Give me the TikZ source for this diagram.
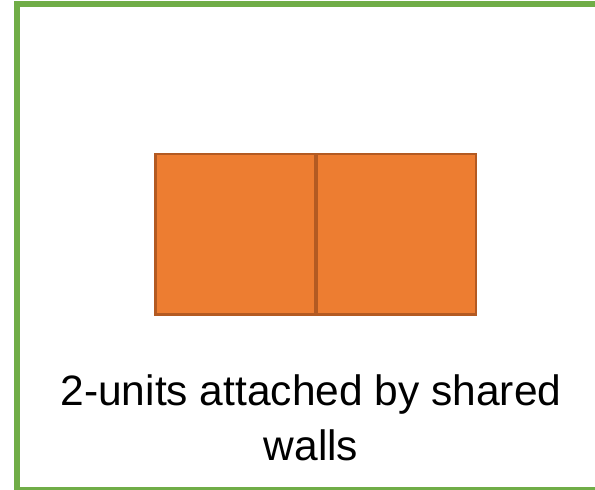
\documentclass[tikz,border=0pt]{standalone}
\usepackage{fontspec}
\setmainfont{Liberation Sans}
\usepackage{xcolor}
\usetikzlibrary{positioning}
\definecolor{frameGreen}{HTML}{70AD47}
\definecolor{unitOrange}{HTML}{ED7D31}
\definecolor{unitEdge}{HTML}{B35A22}
\tikzset{unitbox/.style={draw=unitEdge, fill=unitOrange, line width=2.5pt, outer sep=0pt,
    minimum width=159.5pt, minimum height=160.5pt}}

\begin{document}
\begin{tikzpicture}[x=1pt, y=1pt]

  \useasboundingbox (0,0) rectangle (595,490);

  % frame
  \draw[frameGreen, line width=6pt] (17,-0.5) rectangle (601,485.5);

  % units
  \node[unitbox] (unitA) at (235,255.5) {};
  \node[unitbox, right=1.5pt of unitA] (unitB) {};

  % caption
  \node[align=center, font=\fontsize{42.5}{55}\selectfont] (caption) at (311,72)
    {2-units attached by shared\\walls};

\end{tikzpicture}
\end{document}
